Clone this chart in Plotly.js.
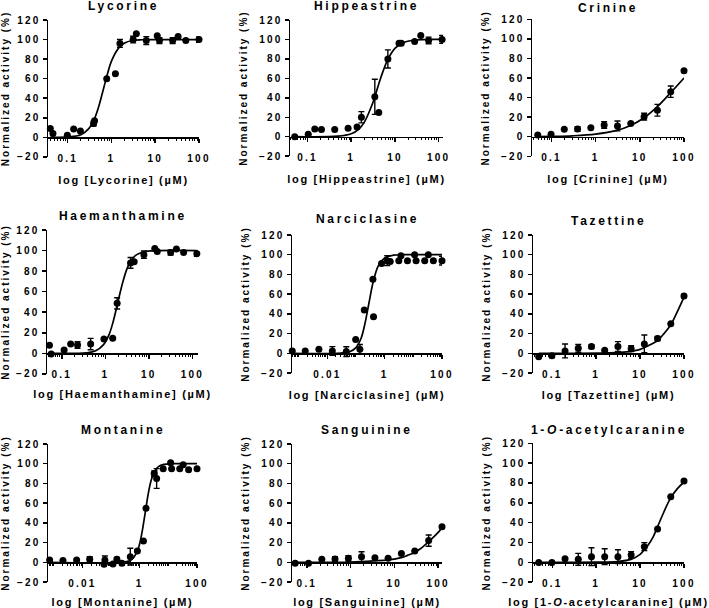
<!DOCTYPE html>
<html><head><meta charset="utf-8">
<script src="https://cdn.plot.ly/plotly-3.0.1.min.js"></script>
<style>
html,body{margin:0;padding:0;background:#fff;}
#chart{width:709px;height:608px;}
svg text{letter-spacing:2.2px;}
svg text.annotation-text{letter-spacing:2.7px;}
svg text[class^="x"][class$="title"]{letter-spacing:1.7px;}
svg text[class^="y"][class$="title"]{letter-spacing:2px;}
</style></head><body><div id="chart"></div>
<script>
// ---------- data ----------
const lycorineConc = [0.040, 0.046, 0.098, 0.137, 0.195, 0.39, 0.41, 0.78, 1.23, 1.56, 3.13, 3.7, 6.25, 11.1, 12.5, 25, 33.3, 50, 100];
const lycorineAct  = [9, 4, 2, 8.5, 6.5, 14, 17, 60, 65, 96, 100, 106, 99, 104, 99, 99, 103, 99, 100];
const lycorineErr  = [0, 0, 0, 0, 0, 2.4, 0, 0, 0, 4, 3.4, 0, 4, 0, 3, 3, 0, 0, 2.7];
const lycorineFitConc = [0.04, 0.1, 0.2, 0.3, 0.4, 0.5, 0.66, 0.8, 1, 1.5, 2, 3, 5, 10, 100];
const lycorineFitAct  = [0, 0.4, 2.7, 8.6, 18, 30, 50, 64, 78, 92, 96.5, 99, 99.8, 100, 100];

const hippeastrineConc = [0.051, 0.104, 0.147, 0.209, 0.42, 0.85, 1.36, 1.71, 3.47, 4.27, 6.9, 12.4, 14, 28.3, 39, 59, 120];
const hippeastrineAct  = [0, 2.4, 8, 7.5, 7.5, 8.6, 10, 20, 41, 25, 80, 96, 96, 98, 104, 99, 100];
const hippeastrineErr  = [0, 0, 0, 0, 0, 0, 0, 5.8, 18, 0, 9.3, 0, 0, 0, 0, 3.4, 4];
const hippeastrineFitConc = [0.05, 0.5, 1, 1.5, 2, 3, 4, 5, 7, 10, 15, 30, 120];
const hippeastrineFitAct  = [0, 0.5, 3, 7.9, 15, 32.8, 50, 63.6, 80, 90.8, 96.5, 99.4, 100];

const crinineConc = [0.049, 0.098, 0.195, 0.39, 0.78, 1.56, 3.125, 6.25, 12.5, 25, 50, 100];
const crinineAct  = [1.7, 2.4, 7.5, 7.8, 9.2, 12, 11, 13.6, 20.5, 27, 46, 67.5];
const crinineErr  = [0, 0, 0, 2.4, 0, 3.4, 5, 0, 3.4, 6, 5.8, 0];
const crinineFitConc = [0.049, 0.1, 0.3, 1, 3, 6, 12.5, 25, 50, 100];
const crinineFitAct  = [0.2, 0.35, 0.9, 2.6, 6.4, 11.2, 19.4, 30.7, 45, 60];

const haemanthamineConc = [0.052, 0.057, 0.113, 0.16, 0.23, 0.46, 0.93, 1.48, 1.87, 3.8, 4.6, 7.7, 13.7, 15.6, 31.7, 43, 63, 127];
const haemanthamineAct  = [7.8, -0.6, 3.2, 9, 8, 9, 14, 14.6, 48.6, 88, 89, 96, 102, 99, 98, 101.5, 98, 97];
const haemanthamineErr  = [0, 0, 0, 0, 3.2, 5.5, 0, 0, 5.5, 5.2, 0, 3.6, 0, 0, 2.3, 0, 0, 2.6];
const haemanthamineFitConc = [0.05, 0.37, 0.6, 0.9, 1.22, 1.52, 1.95, 2.44, 3.05, 3.66, 4.88, 7.3, 12, 127];
const haemanthamineFitAct  = [0, 0.5, 2.4, 8.2, 18.2, 31, 50, 67, 80.7, 88.2, 95, 98.6, 99.7, 100];

const narciclasineConc = [0.0006, 0.0017, 0.0051, 0.015, 0.046, 0.098, 0.137, 0.195, 0.39, 0.41, 0.78, 1.23, 1.56, 3.125, 3.7, 6.25, 11.1, 12.5, 25, 33.3, 50, 100];
const narciclasineAct  = [2.4, 2.4, 4, 2.4, 1.7, 14, 4, 44, 75, 37, 91, 94, 93, 94, 99, 94, 100, 94, 94, 100, 94, 94];
const narciclasineErr  = [0, 0, 0, 4.4, 5, 0, 5, 0, 0, 0, 0, 5, 0, 0, 0, 0, 0, 0, 0, 0, 0, 4.4];
const narciclasineFitConc = [0.0006, 0.03, 0.06, 0.1, 0.15, 0.2, 0.28, 0.4, 0.6, 1, 2, 5, 100];
const narciclasineFitAct  = [0, 0.2, 1.5, 5.8, 15, 28.5, 50, 72.5, 88.7, 96.8, 99.5, 100, 100];

const tazettineConc = [0.049, 0.098, 0.195, 0.39, 0.78, 1.56, 3.125, 6.25, 12.5, 25, 50, 100];
const tazettineAct  = [-3.4, -2.4, 2.4, 5, 6.8, 3, 6.8, 4.7, 9.5, 15, 30, 58];
const tazettineErr  = [0, 2, 7, 4, 2, 0, 5, 3, 9, 2, 0, 2];
const tazettineFitConc = [0.049, 2, 5, 10, 15, 25, 35, 50, 70, 100];
const tazettineFitAct  = [0, 0.4, 1.5, 4, 7.5, 13, 20, 29, 42, 57];

const montanineConc = [0.00072, 0.0021, 0.0063, 0.018, 0.057, 0.061, 0.117, 0.16, 0.24, 0.47, 0.83, 1.35, 1.66, 3.2, 3.9, 6.6, 12, 13, 25, 33, 51, 100];
const montanineAct  = [2.4, 1.7, 2.4, 3, -2, 2.4, -1.7, 3, -1, 5.7, 11.5, 21.6, 54.8, 90, 85, 95, 101, 95, 95, 99, 94, 95];
const montanineErr  = [0, 0, 0, 2.7, 0, 4, 0, 2, 0, 8.5, 0, 0, 0, 2.7, 10, 0, 0, 0, 0, 0, 0, 0];
const montanineFitConc = [0.0007, 0.3, 0.5, 0.8, 1, 1.25, 1.55, 2, 2.5, 3.2, 4.5, 7, 15, 100];
const montanineFitAct  = [0, 0.4, 2.3, 10, 19, 33, 50, 70, 83, 91.6, 97, 99.3, 100, 100];

const sanguinineConc = [0.054, 0.109, 0.22, 0.44, 0.89, 1.78, 3.6, 7.2, 14.5, 29.3, 61, 123];
const sanguinineAct  = [-1, -1, 3, 3.4, 4, 5.7, 4.7, 4, 9, 11.5, 22, 36];
const sanguinineErr  = [0, 0, 0, 2.4, 2.7, 5, 0, 0, 0, 0, 5.7, 0];
const sanguinineFitConc = [0.054, 1, 3.6, 7.2, 14.5, 20, 29.3, 40, 61, 90, 123];
const sanguinineFitAct  = [0, 0.3, 1.5, 2.5, 4.8, 7, 10, 14, 21, 28, 35];

const acetylcaranineConc = [0.049, 0.098, 0.195, 0.39, 0.78, 1.56, 3.125, 6.25, 12.5, 25, 50, 100];
const acetylcaranineAct  = [-0.3, -0.3, 3.7, 3, 5.7, 5.7, 5.7, 7.4, 15.8, 33.6, 66, 82];
const acetylcaranineErr  = [0, 0, 0, 6, 9, 8, 7, 3.4, 4, 0, 0, 0];
const acetylcaranineFitConc = [0.049, 1, 3, 6.2, 10, 12.3, 15, 20, 24.5, 35, 49, 70, 100];
const acetylcaranineFitAct  = [0, 0.2, 0.8, 3, 8, 12.4, 17, 26, 35, 51, 64.5, 74, 81];

const panelTitles = ['Lycorine', 'Hippeastrine', 'Crinine', 'Haemanthamine', 'Narciclasine', 'Tazettine', 'Montanine', 'Sanguinine', '1-<i>O</i>-acetylcaranine'];
const yTitle = 'Normalized activity (%)';
const yTicks = [-20, 0, 20, 40, 60, 80, 100, 120];

// ---------- layout geometry (pixels) ----------
const W = 709, H = 608;
const FONT = 'Liberation Sans, Arial, Helvetica, sans-serif';
const series = [
  [lycorineConc, lycorineAct, lycorineErr, lycorineFitConc, lycorineFitAct],
  [hippeastrineConc, hippeastrineAct, hippeastrineErr, hippeastrineFitConc, hippeastrineFitAct],
  [crinineConc, crinineAct, crinineErr, crinineFitConc, crinineFitAct],
  [haemanthamineConc, haemanthamineAct, haemanthamineErr, haemanthamineFitConc, haemanthamineFitAct],
  [narciclasineConc, narciclasineAct, narciclasineErr, narciclasineFitConc, narciclasineFitAct],
  [tazettineConc, tazettineAct, tazettineErr, tazettineFitConc, tazettineFitAct],
  [montanineConc, montanineAct, montanineErr, montanineFitConc, montanineFitAct],
  [sanguinineConc, sanguinineAct, sanguinineErr, sanguinineFitConc, sanguinineFitAct],
  [acetylcaranineConc, acetylcaranineAct, acetylcaranineErr, acetylcaranineFitConc, acetylcaranineFitAct]
];
// [left, right, y at 120, y at 0]
const boxes = [
  [48, 199, 20, 137.3], [290, 443, 20, 136.7], [532, 684, 19.3, 136.7],
  [47, 198, 230, 353.3], [292, 442, 235, 353.3], [533, 684, 235, 353.3],
  [48, 197, 444, 562.3], [292, 442, 444, 562.3], [533, 684, 443.3, 562.3]
];
const xRanges = [[-1.45, 2], [-1.4, 2.1], [-1.44, 2], [-1.34, 2.13], [-3.23, 2], [-1.44, 2], [-3.2, 2], [-1.34, 2.09], [-1.44, 2]];
const xDticks = [1, 1, 1, 1, 2, 1, 2, 1, 1];
const titleY = [6, 6, 7.5, 216, 219, 221, 430, 430, 430];
const xTitleStandoff = [13, 13, 13, 11, 12, 12, 10, 10, 10];

const data = [];
const layout = {
  width: W, height: H, margin: {l: 0, r: 0, t: 0, b: 0, pad: 0},
  paper_bgcolor: '#fff', plot_bgcolor: 'rgba(0,0,0,0)', showlegend: false,
  font: {family: FONT, color: '#000', weight: 'bold'},
  annotations: []
};
const bold = (s) => ({family: FONT, size: s, color: '#000', weight: 'bold'});

series.forEach((s, i) => {
  const n = i + 1, sfx = n === 1 ? '' : String(n);
  const [l, r, yt, y0] = boxes[i];
  const yb = y0 + (y0 - yt) / 6;
  const xa = 'x' + sfx, ya = 'y' + sfx;
  data.push({
    type: 'scatter', mode: 'lines', x: s[3], y: s[4], xaxis: xa, yaxis: ya,
    line: {color: '#000', width: 1.7, shape: 'spline'}, hoverinfo: 'skip', cliponaxis: false
  });
  data.push({
    type: 'scatter', mode: 'markers', x: s[0], y: s[1], xaxis: xa, yaxis: ya,
    marker: {color: '#000', size: 7},
    error_y: {type: 'data', array: s[2], visible: true, color: '#000', thickness: 1.4, width: 3},
    cliponaxis: false
  });
  const label = panelTitles[i];
  layout['xaxis' + sfx] = {
    type: 'log', domain: [l / W, r / W], range: xRanges[i], anchor: 'free',
    position: 1 - y0 / H, dtick: xDticks[i], tick0: 0,
    showline: true, linecolor: '#000', linewidth: 1.5,
    ticks: 'outside', ticklen: 4, tickwidth: 1.5, tickcolor: '#000',
    minor: {ticks: 'outside', ticklen: 2.2, tickwidth: 1, tickcolor: '#000', dtick: 'D1'},
    showgrid: false, zeroline: false, fixedrange: true,
    tickfont: bold(10), ticklabelstandoff: 7,
    title: {text: 'log [' + label + '] (µM)', font: bold(11), standoff: xTitleStandoff[i]}
  };
  layout['yaxis' + sfx] = {
    domain: [1 - yb / H, 1 - yt / H], range: [-20, 120], anchor: xa,
    tickvals: yTicks, showline: true, linecolor: '#000', linewidth: 1.5,
    ticks: 'outside', ticklen: 4, tickwidth: 1.5, tickcolor: '#000',
    showgrid: false, zeroline: false, fixedrange: true,
    tickfont: bold(10),
    title: {text: yTitle, font: bold(10), standoff: 9}
  };
  layout.annotations.push({
    text: label, xref: 'paper', yref: 'paper', x: (l + r) / 2 / W, y: 1 - titleY[i] / H,
    xanchor: 'center', yanchor: 'middle', showarrow: false, font: bold(12)
  });
});

Plotly.newPlot('chart', data, layout, {staticPlot: true, displayModeBar: false});
</script></body></html>
